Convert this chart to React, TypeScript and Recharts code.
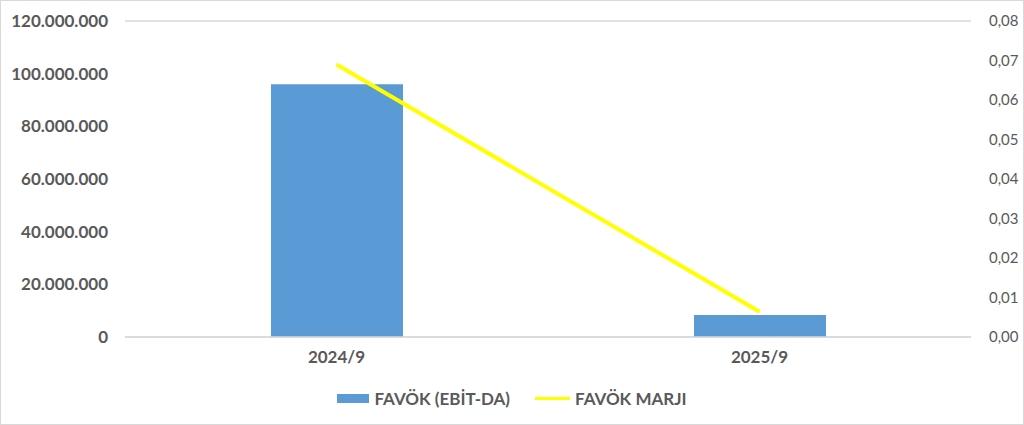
import {
  ComposedChart,
  Bar,
  Line,
  XAxis,
  YAxis,
  CartesianGrid,
  Legend,
} from 'recharts';

const PERIODS = ['2024/9', '2025/9'];
const FAVOK = [96000000, 8400000];
const FAVOK_MARJI = [0.069, 0.0064];
const LEFT_TICKS = [0, 20000000, 40000000, 60000000, 80000000, 100000000, 120000000];
const RIGHT_TICKS = [0, 0.01, 0.02, 0.03, 0.04, 0.05, 0.06, 0.07, 0.08];

const TEXT = '#595959';
const FONT = 'Lato, "Open Sans", sans-serif';
const BLUE = '#5b9bd5';
const YELLOW = '#ffff00';

function formatThousands(v: number): string {
  return v.toLocaleString('de-DE');
}

function formatRatio(v: number): string {
  return v.toFixed(2).replace('.', ',');
}

function renderLegend() {
  const item = { display: 'flex', alignItems: 'center', gap: 5 } as const;
  return (
    <div
      style={{
        display: 'flex',
        justifyContent: 'center',
        gap: 25,
        fontFamily: FONT,
        fontWeight: 700,
        fontSize: 17,
        color: TEXT,
      }}
    >
      <div style={item}>
        <span style={{ display: 'inline-block', width: 32, height: 9, background: BLUE }} />
        <span>FAVÖK (EBİT-DA)</span>
      </div>
      <div style={item}>
        <span style={{ display: 'inline-block', width: 35, height: 3, background: YELLOW }} />
        <span>FAVÖK MARJI</span>
      </div>
    </div>
  );
}

export default function App() {
  const data = PERIODS.map((p, i) => ({
    period: p,
    favok: FAVOK[i],
    marji: FAVOK_MARJI[i],
  }));

  return (
    <>
      <style>{'body{margin:0}'}</style>
      <div
        style={{
          width: 1024,
          height: 425,
          boxSizing: 'border-box',
          border: '1px solid #d9d9d9',
          background: '#fff',
          position: 'relative',
        }}
      >
        <ComposedChart
          width={1022}
          height={423}
          data={data}
          margin={{ top: 20, right: 0, left: 0, bottom: 12 }}
          style={{ fontFamily: FONT }}
        >
          <CartesianGrid vertical={false} stroke="#d9d9d9" strokeWidth={1.5} />
          <XAxis
            dataKey="period"
            axisLine={{ stroke: '#d9d9d9', strokeWidth: 1.5 }}
            tickLine={false}
            tickSize={0}
            tickMargin={14}
            height={51}
            tick={{ fill: TEXT, fontSize: 17, fontWeight: 700 }}
          />
          <YAxis
            yAxisId="left"
            width={124}
            domain={[0, 120000000]}
            ticks={LEFT_TICKS}
            tickFormatter={formatThousands}
            axisLine={false}
            tickLine={false}
            tickSize={0}
            tickMargin={17}
            tick={{ fill: TEXT, fontSize: 17, fontWeight: 700 }}
          />
          <YAxis
            yAxisId="right"
            orientation="right"
            width={52}
            domain={[0, 0.08]}
            ticks={RIGHT_TICKS}
            tickFormatter={formatRatio}
            axisLine={false}
            tickLine={false}
            tickSize={0}
            tickMargin={18}
            tick={{ fill: TEXT, fontSize: 15, fontWeight: 400, textAnchor: 'start' }}
          />
          <Legend verticalAlign="bottom" height={24} content={renderLegend} />
          <Bar
            yAxisId="left"
            dataKey="favok"
            name="FAVÖK (EBİT-DA)"
            fill={BLUE}
            barSize={132}
            isAnimationActive={false}
          />
          <Line
            yAxisId="right"
            dataKey="marji"
            name="FAVÖK MARJI"
            stroke={YELLOW}
            strokeWidth={4}
            dot={false}
            activeDot={false}
            isAnimationActive={false}
          />
        </ComposedChart>
      </div>
    </>
  );
}
